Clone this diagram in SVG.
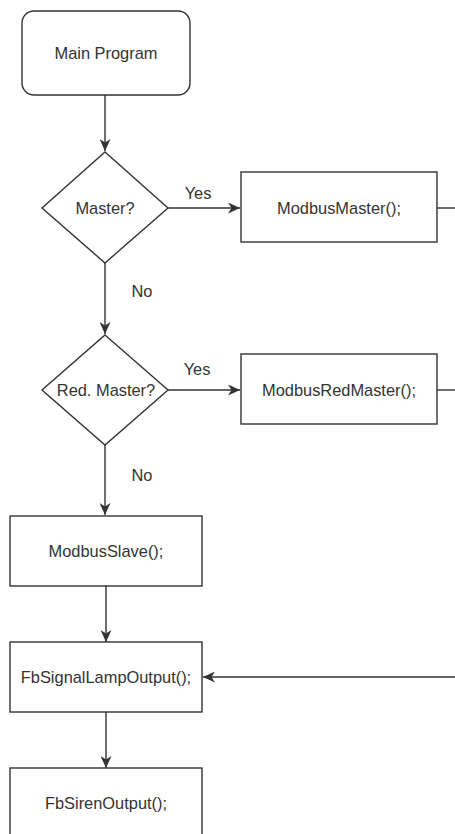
<svg xmlns="http://www.w3.org/2000/svg" width="455" height="834" viewBox="0 0 455 834">
  <style>
    .box { fill: #ffffff; stroke: #333333; stroke-width: 1.4; }
    .lbl { font-family: "Liberation Sans", Arial, sans-serif; font-size: 16.4px; fill: #333333; text-anchor: middle; dominant-baseline: central; }
    .edge { fill: none; stroke: #333333; stroke-width: 1.4; marker-end: url(#arrow); }
    .line { fill: none; stroke: #333333; stroke-width: 1.4; }
  </style>
  <defs>
    <marker id="arrow" markerUnits="userSpaceOnUse" markerWidth="13" markerHeight="11" refX="12" refY="5.5" orient="auto">
      <path d="M0,0 L12,5.5 L0,11 L3.5,5.5 z" fill="#333333"/>
    </marker>
  </defs>
  <rect width="455" height="834" fill="#ffffff"/>

  <g id="connectors">
    <path class="edge" d="M105,95 L105,151"/>
    <path class="edge" d="M168,208 L240,208"/>
    <path class="edge" d="M105,263 L105,334"/>
    <path class="edge" d="M168,390 L240,390"/>
    <path class="edge" d="M105,445 L105,515"/>
    <path class="edge" d="M106,586 L106,642"/>
    <path class="edge" d="M106,712 L106,768"/>
    <path class="line" d="M437,208 L455,208"/>
    <path class="line" d="M437,390 L455,390"/>
    <path class="edge" d="M455,677 L203,677"/>
    <text class="lbl" x="198" y="193">Yes</text>
    <text class="lbl" x="142" y="291">No</text>
    <text class="lbl" x="197" y="369">Yes</text>
    <text class="lbl" x="142" y="475">No</text>
  </g>

  <g id="main-program">
    <rect class="box" x="22" y="11" width="168" height="84" rx="12" ry="12"/>
    <text class="lbl" x="106" y="53">Main Program</text>
  </g>

  <g id="is-master">
    <polygon class="box" points="105,152 168,208 105,263 42,208"/>
    <text class="lbl" x="105" y="208">Master?</text>
  </g>

  <g id="modbus-master">
    <rect class="box" x="241" y="172" width="196" height="70"/>
    <text class="lbl" x="339" y="208">ModbusMaster();</text>
  </g>

  <g id="is-red-master">
    <polygon class="box" points="105,335 168,390 105,445 42,390"/>
    <text class="lbl" x="106" y="390">Red. Master?</text>
  </g>

  <g id="modbus-red-master">
    <rect class="box" x="241" y="354" width="196" height="70"/>
    <text class="lbl" x="339" y="390">ModbusRedMaster();</text>
  </g>

  <g id="modbus-slave">
    <rect class="box" x="10" y="516" width="192" height="70"/>
    <text class="lbl" x="106" y="551">ModbusSlave();</text>
  </g>

  <g id="fb-signal-lamp-output">
    <rect class="box" x="10" y="642" width="192" height="70"/>
    <text class="lbl" x="106" y="677">FbSignalLampOutput();</text>
  </g>

  <g id="fb-siren-output">
    <rect class="box" x="10" y="768" width="192" height="70"/>
    <text class="lbl" x="106" y="803">FbSirenOutput();</text>
  </g>
</svg>
